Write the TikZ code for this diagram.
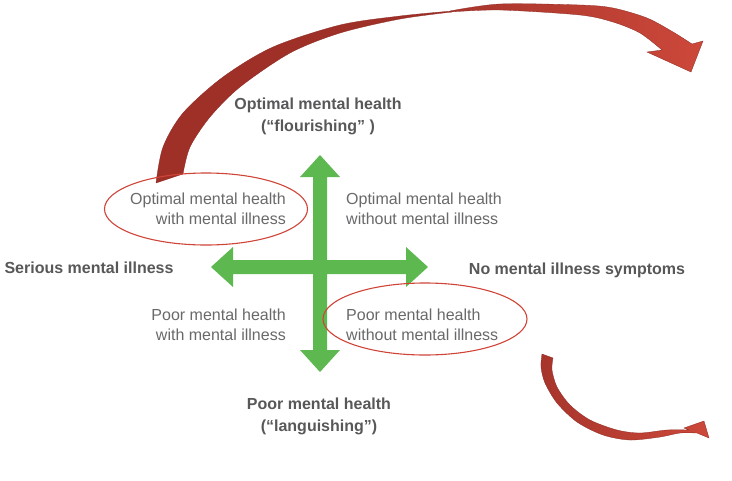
\documentclass[tikz,border=0pt]{standalone}
\usepackage{fontspec}
\setmainfont{Liberation Sans}
\usetikzlibrary{positioning,calc}
\definecolor{crossgreen}{RGB}{93,184,80}
\definecolor{polegray}{RGB}{88,88,90}
\definecolor{quadgray}{RGB}{105,105,108}
\definecolor{ringred}{RGB}{208,68,56}
\definecolor{backred}{RGB}{158,48,40}
\definecolor{frontred}{RGB}{204,72,58}
\definecolor{rimred}{RGB}{140,40,34}

\begin{document}
\begin{tikzpicture}[x=1pt,y=-1pt,
  axis/.style={fill=crossgreen},
  pole/.style={text=polegray,font=\bfseries\fontsize{16}{22}\selectfont,align=center,inner sep=0pt},
  quad/.style={text=quadgray,font=\fontsize{16}{20}\selectfont,inner sep=0pt},
  ring/.style={draw=ringred,line width=1.1pt},
  back/.style={fill=backred,draw=rimred,line width=0.3pt},
  front/.style={left color=backred!80!frontred,right color=frontred,draw=rimred,line width=0.3pt}]
\useasboundingbox (0,0) rectangle (732,480);
\fill[white] (0,0) rectangle (732,480);
\coordinate (o) at (320,267);

% the two axes
\fill[axis] (320,155) -- (340,177) -- (327,177) -- (327,260) -- (406,260) -- (406,247)
  -- (428,267) -- (406,287) -- (406,274) -- (327,274) -- (327,350) -- (340,350)
  -- (320,372) -- (300,350) -- (313,350) -- (313,274) -- (233,274) -- (233,287)
  -- (211,267) -- (233,247) -- (233,260) -- (313,260) -- (313,177) -- (300,177) -- cycle;

% upper curved arrow
\filldraw[back] plot[smooth] coordinates {(156,183) (163,147) (183,113) (223,77) (273,47) (340,25) (400,16) (452,11)}
  -- plot[smooth] coordinates {(452,12) (400,19) (340,33) (290,53) (240,87) (210,117) (190,147) (183,174)} -- cycle;
\shade[front] plot[smooth] coordinates {(450,11) (500,4) (580,5) (613,8) (647,18) (673,32) (692,44)}
  -- (703,41) -- (691,72) -- (647,52) -- (662,50)
  -- plot[smooth] coordinates {(662,50) (640,33) (613,22) (580,15) (500,10) (450,12)} -- cycle;

% lower curved arrow
\shade[front] plot[smooth] coordinates {(542,354) (541,367) (545,383) (557,403) (577,422) (603,435) (630,440) (660,437) (680,433) (697,433)}
  -- (709,438) -- (704,421) -- (684,428)
  -- plot[smooth] coordinates {(689,430) (667,430) (640,433) (617,430) (590,420) (570,405) (557,387) (552,370) (553,358)} -- cycle;

% highlighted quadrants
\draw[ring] (206,209) ellipse [x radius=101.5,y radius=36];
\draw[ring] (425,319) ellipse [x radius=102,y radius=36];

% poles
\node (top) [pole] at (318,116) {Optimal mental health\\(“flourishing” )};
\node (bot) [pole] at (319,416) {Poor mental health\\(“languishing”)};
\node (lft) [pole] at (89,268) {Serious mental illness};
\node (rgt) [pole] at (577,270) {No mental illness symptoms};

% quadrants
\node (tl) [quad,align=right,anchor=east] at (286,209) {Optimal mental health\\with mental illness};
\node (tr) [quad,align=left,anchor=west] at (346,209) {Optimal mental health\\without mental illness};
\node (bl) [quad,align=right,anchor=east] at (286,325) {Poor mental health\\with mental illness};
\node (br) [quad,align=left,anchor=west] at (346,325) {Poor mental health\\without mental illness};
\end{tikzpicture}
\end{document}
